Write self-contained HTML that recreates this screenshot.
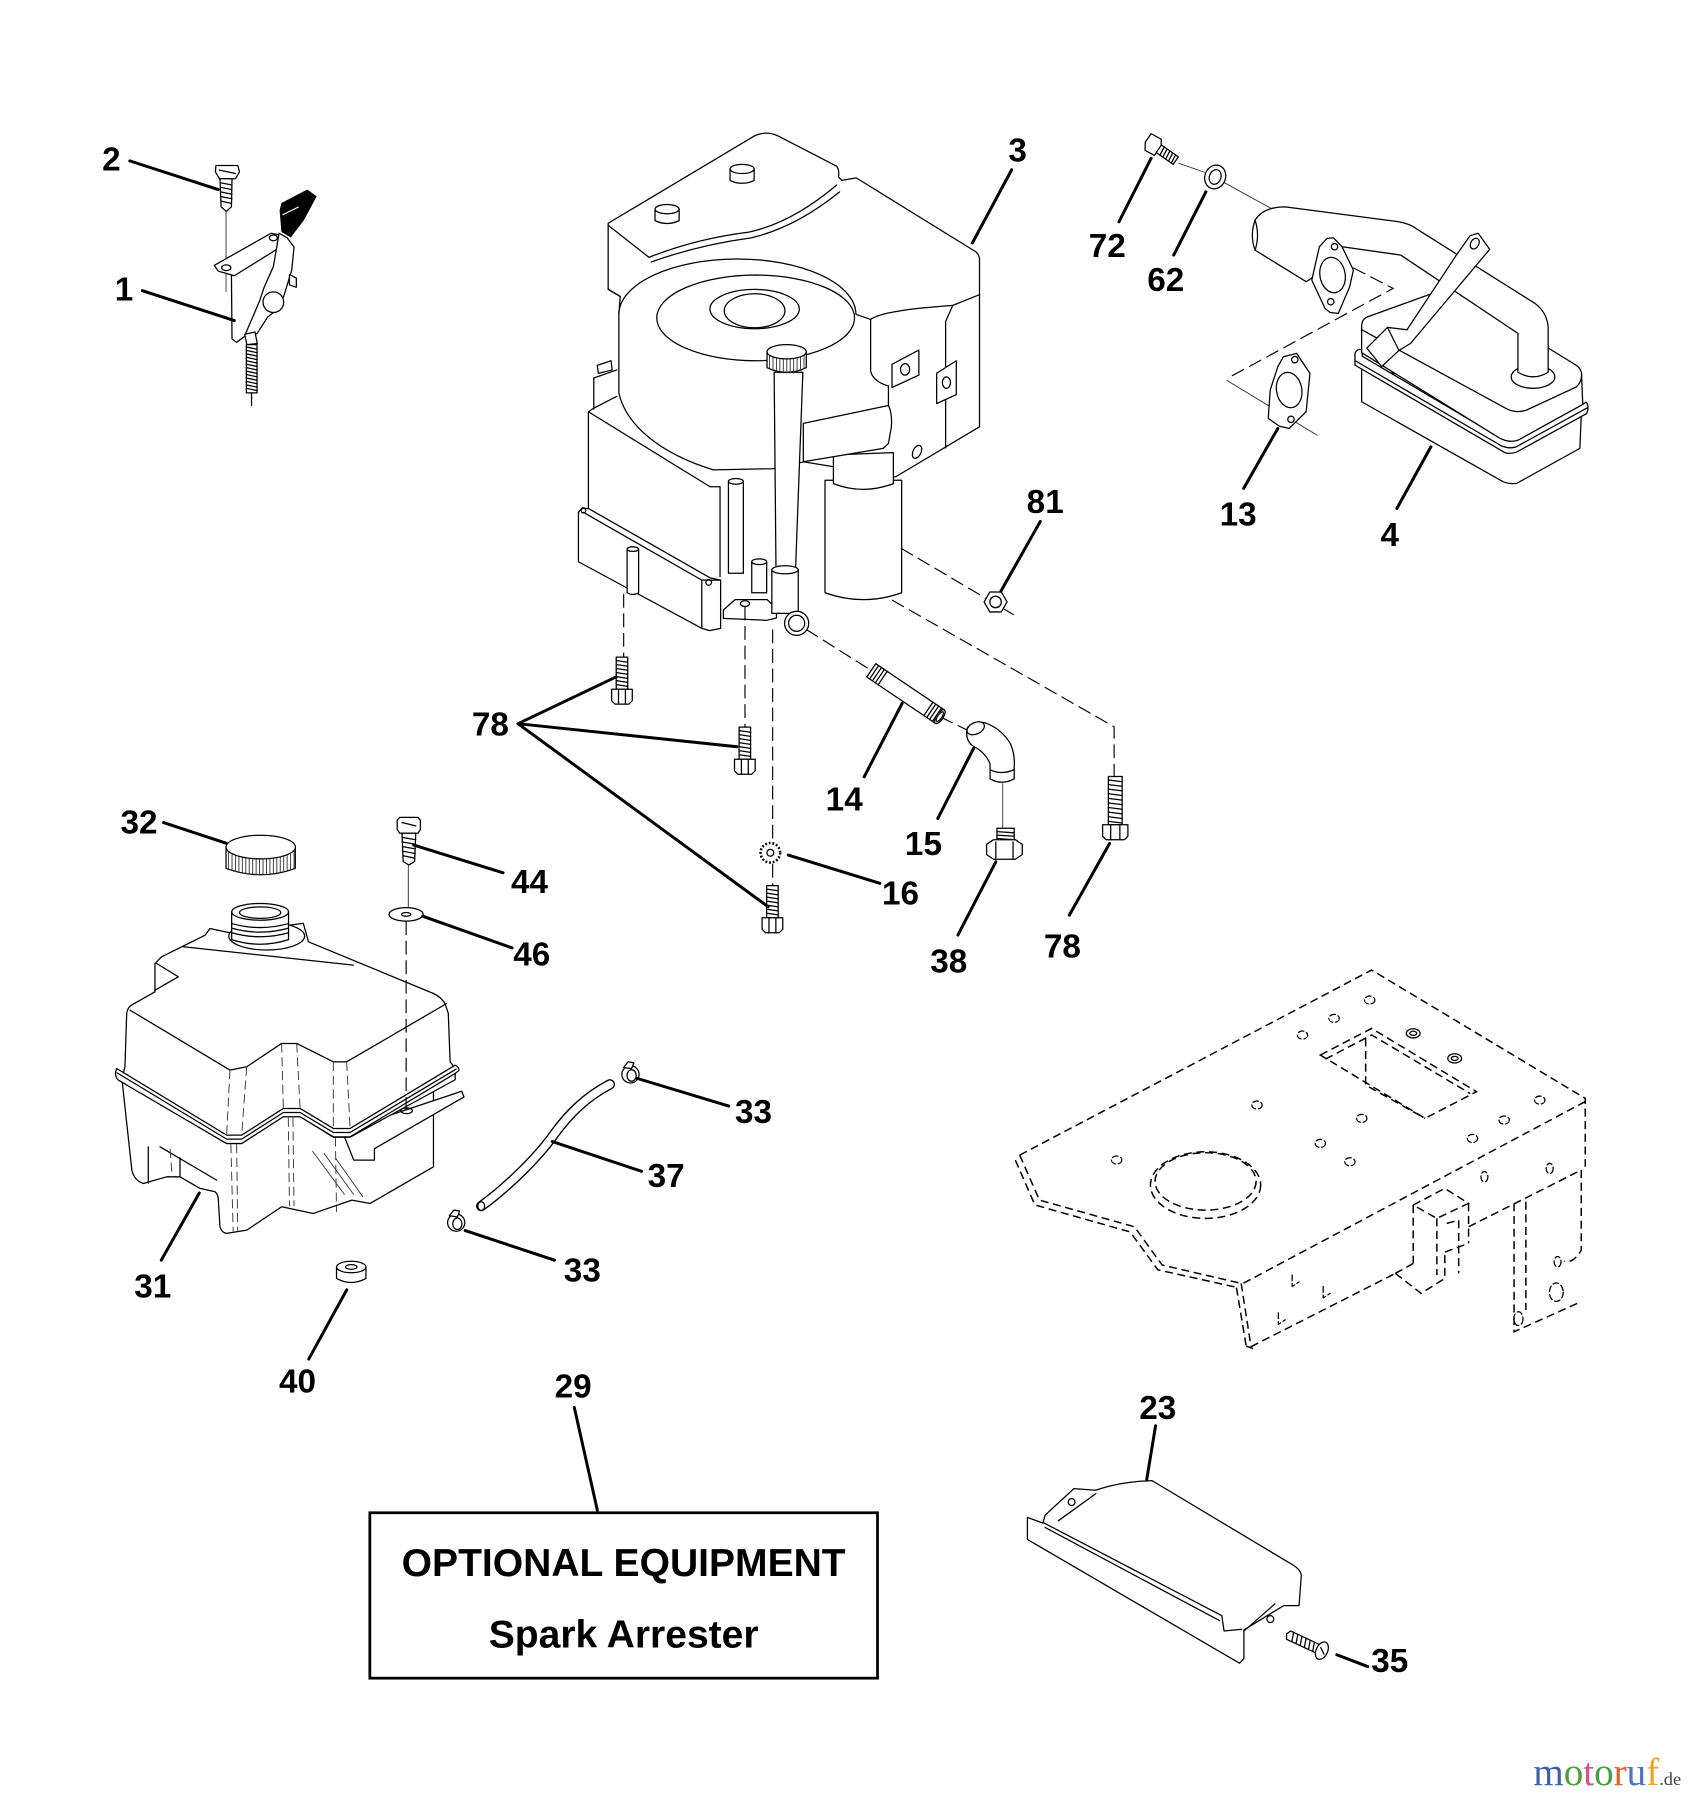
<!DOCTYPE html>
<html><head><meta charset="utf-8"><style>
html,body{margin:0;padding:0;background:#fff}
svg{display:block}
.t{font-family:"Liberation Sans",Arial,sans-serif;font-weight:bold;font-size:29px;text-anchor:middle;fill:#000}
.b{font-family:"Liberation Sans",Arial,sans-serif;font-weight:bold;font-size:34px;text-anchor:middle;fill:#000}
.l{stroke:#000;stroke-width:2.6;fill:none;stroke-linecap:round}
.s{stroke:#000;stroke-width:1.1;fill:none;stroke-linejoin:round;stroke-linecap:round}
.w{stroke:#000;stroke-width:1.1;fill:#fff;stroke-linejoin:round}
.k{stroke:#000;stroke-width:1.1;fill:#000}
.d{stroke:#000;stroke-width:1;fill:none;stroke-dasharray:12 5}
.f{stroke:#000;stroke-width:1.3;fill:none;stroke-dasharray:7 4}
.g{stroke:#333;stroke-width:0.8;fill:none}
</style></head><body>
<svg width="1693" height="1800" viewBox="0 0 1474 1567" xmlns="http://www.w3.org/2000/svg">
<rect width="1474" height="1567" fill="#fff"/>
<defs>
<g id="b78">
<path class="w" d="M-5,0 L5,0 L5,28 L-5,28 Z"/>
<path class="s" d="M-5,3 L5,4.5 M-5,6.5 L5,8 M-5,10 L5,11.5 M-5,13.5 L5,15 M-5,17 L5,18.5 M-5,20.5 L5,22 M-5,24 L5,25.5"/>
<path class="w" d="M-9,28 L9,28 L9,38 L6,41 L-6,41 L-9,38 Z"/>
<path class="s" d="M-3,28 L-3,41 M3,28 L3,41"/>
</g>
<g id="clamp">
<circle class="w" r="7.5"/>
<ellipse class="s" cx="1" cy="1" rx="4" ry="5"/>
<path class="w" d="M-6,-6 L-2,-11 L3,-10 L1,-5 Z"/>
</g>
</defs>

<!-- ========== THROTTLE CONTROL (1,2) ========== -->
<path class="w" d="M188,144 L207,144 L208.5,149.5 L205,155.5 L191,155.5 L187.5,149.5 Z"/>
<path class="s" d="M191,148 L205,151"/>
<path class="w" d="M191.5,155.5 L192.5,180 L197,184 L201.5,180 L202,155.5 Z"/>
<path class="s" d="M192,159 L202,161 M192,163 L202,165 M192,167 L202,169 M192,171 L202,173 M192.5,175 L201.5,177"/>
<path class="g" d="M196.8,184 L196.8,254"/>
<path class="w" d="M186.5,231 L236,203 L246,205 L249,212 L204,240 L190,236 Z"/>
<ellipse class="s" cx="197" cy="233" rx="4" ry="2.5"/>
<ellipse class="s" cx="238" cy="207" rx="3.5" ry="2.5"/>
<path class="s" d="M201.5,240 L202,295 L206,298 L214,292"/>
<path class="w" d="M243,203 L250,207 L256,215 L254,235 L247,258 L243,268 L233,276 L224,290 L216,296 L214,290 L220,276 L226,262 L230,250 L238,232 Z"/>
<circle class="w" cx="238" cy="263" r="9"/>
<path class="w" d="M252,239 L258,242 L258,250 L252,248 Z"/>
<path class="k" d="M245.5,177 L267.5,165.5 L275,171 L264,191.5 L253,206 L245.5,201.5 L244,183 Z"/>
<path d="M246,187 L260,180" stroke="#fff" stroke-width="1"/>
<path class="w" d="M213,291 L222,289 L224,299 L215,300 Z"/>
<path class="w" d="M214.5,300 L223.8,300 L223.8,342 L214.5,342 Z"/>
<path class="s" d="M214.5,302 L223.8,304 M214.5,305 L223.8,307 M214.5,308 L223.8,310 M214.5,311 L223.8,313 M214.5,314 L223.8,316 M214.5,317 L223.8,319 M214.5,320 L223.8,322 M214.5,323 L223.8,325 M214.5,326 L223.8,328 M214.5,329 L223.8,331 M214.5,332 L223.8,334 M214.5,335 L223.8,337 M214.5,338 L223.8,340"/>
<path class="s" d="M219,342 L219,353"/>

<!-- ========== ENGINE (3) ========== -->
<path class="w" d="M529.5,194.3 L657,118.2 Q667,113.5 677.2,118.2 L728.4,144.6 Q731,148 730,154 L733,157 L745.5,154.8 L849.7,219.2 Q853,222 852.8,227 L852.8,371.5 L779.7,415.1 L700,402 L673,408 L621,409 C575,395 545,370 538.8,342 L538.8,273.6 L540,258 L529.5,251.8 Z"/>
<path class="s" d="M529.5,196 L565,224 C590,214 620,206 652,202 C680,196 706,180 728.5,161"/>
<path class="s" d="M567,228 C595,218 624,211 654,207 C684,200 710,184 731,167"/>
<path class="s" d="M529.5,251.8 L540,258"/>
<g transform="translate(580.8,188)"><path class="w" d="M-10.5,-6 L-10.5,4 Q0,9 10.5,4 L10.5,-6 Z"/><ellipse class="w" cx="0" cy="-6" rx="10.5" ry="4"/></g>
<g transform="translate(646.1,153)"><path class="w" d="M-10.5,-6 L-10.5,4 Q0,9 10.5,4 L10.5,-6 Z"/><ellipse class="w" cx="0" cy="-6" rx="10.5" ry="4"/></g>
<path class="s" d="M758,278 C768,271 800,268 829.5,265.8 L852.8,256.5 M829.5,265.8 L823.3,279.8 L823.3,390"/>
<path class="w" d="M776.6,317.1 L800,304.7 L800,326.5 L776.6,337.3 Z"/><ellipse class="s" cx="788" cy="321.5" rx="4" ry="5"/>
<path class="w" d="M815.5,324.9 L832.6,314 L832.6,343.5 L815.5,351.3 Z"/><ellipse class="s" cx="824" cy="333" rx="3.5" ry="5"/>
<ellipse class="s" cx="798.4" cy="393.3" rx="3.5" ry="6" transform="rotate(25 798.4 393.3)"/>
<path class="s" d="M538.8,273.6 A103.2,48.2 0 0 1 745.2,273.6 Q752,276 758,278 L758,323 Q760,332 773.5,336 L773.5,386"/>
<ellipse class="s" cx="657.9" cy="276.7" rx="86.1" ry="37.3"/>
<ellipse class="s" cx="657" cy="269" rx="38.9" ry="17.1"/>
<ellipse class="s" cx="657" cy="270.5" rx="26.4" ry="14.8"/>
<!-- crankcase -->
<path class="s" d="M537,345 L516.6,355.5 L512.3,358.4 L512.3,444 M512.3,358.4 L618.2,423.7 L626.9,423.7 M626.9,423.7 L626.9,502"/>
<path class="w" d="M520,318 L532,314 L533,322 L521,325 Z"/>
<path class="s" d="M517,329 L517,356 M517,329 L537,322"/>
<path class="w" d="M503.6,446 L507,442 L513,443 L618.2,503 L627.4,505 L627.4,547 L618,549 L611,547 L503.6,489 Z"/>
<path class="s" d="M507.9,446 L611,505 L627.4,505 M611,505 L611,547"/>
<circle class="s" cx="508" cy="444.5" r="2"/><circle class="s" cx="617" cy="507" r="2.5"/>
<path class="w" d="M634.2,419 L634.2,499 L647.2,499 L647.2,419 Z"/><ellipse class="w" cx="640.7" cy="419" rx="6.5" ry="2.5"/>
<path class="w" d="M546,478 L546,516 Q551,519 556,516 L556,478 Z"/><ellipse class="w" cx="551" cy="478" rx="5" ry="2"/>
<path class="w" d="M654.5,489 L654.5,516 L667.5,516 L667.5,489 Z"/><ellipse class="w" cx="661" cy="489" rx="6.5" ry="2.5"/>
<path class="w" d="M629.8,531 L640,522 L668,522 L676,530 L676,538 L667.5,540 L629.8,538.3 Z"/><ellipse class="s" cx="648.6" cy="525.5" rx="4" ry="2.5"/>
<!-- filter -->
<path class="w" d="M718.3,418 L718.3,516 Q751.6,528 785,516 L785,418 Z"/>
<path class="w" d="M725.6,396 L725.6,421 Q751.6,431 777.8,421 L777.8,394 Z"/>
<!-- shroud piece -->
<path class="w" d="M699.4,368.5 L773.5,353 Q777,360 776,372 L773.5,386 L769,390.3 L699.4,401.9 Z"/>
<!-- dipstick -->
<path class="w" d="M674,324 L699,324 L692.7,494 L675.6,494 Z"/>
<path class="w" d="M667.8,306 L667.8,320 Q684.9,328 702,320 L702,306 Z"/>
<path class="g" d="M670,309 L670,321 M673,309 L673,323 M676,309 L676,324 M679,309 L679,325 M682,309 L682,325 M685,309 L685,325 M688,309 L688,325 M691,309 L691,325 M694,309 L694,324 M697,309 L697,323 M700,309 L700,321"/>
<ellipse class="w" cx="684.9" cy="306.2" rx="17.1" ry="6.2"/>
<path class="w" d="M672,496 L672,534 L695,534 L695,496 Z"/><ellipse class="w" cx="683.5" cy="496" rx="11.5" ry="3.5"/>
<circle class="w" cx="693.6" cy="542.6" r="10.5"/><circle class="s" cx="693.6" cy="542.6" r="7"/>

<!-- engine dashed lines -->
<path class="d" d="M784.4,477.2 L884,536"/>
<path class="d" d="M776.6,522.3 L970,632.7 L970,676"/>
<path class="d" d="M702,548 L758.2,583.4 M818.5,624 L845,637"/>
<path class="d" d="M543,517 L543,572"/>
<path class="d" d="M648.6,528 L648.6,633"/>
<path class="d" d="M672.7,548 L672.7,733 M672.7,752 L672.7,771"/>

<!-- nut 81 -->
<path class="w" d="M876.8,524 L871.8,532.7 L861.8,532.7 L856.8,524 L861.8,515.3 L871.8,515.3 Z"/><circle class="s" cx="866.8" cy="524" r="5"/>

<!-- bolts 78 -->
<use href="#b78" transform="translate(541.5,572)"/>
<use href="#b78" transform="translate(648.5,633)"/>
<use href="#b78" transform="translate(672.5,771)"/>
<g transform="translate(971,676)">
<path class="w" d="M-6,0 L6,0 L6,42 L-6,42 Z"/>
<path class="s" d="M-6,3 L6,4.5 M-6,7 L6,8.5 M-6,11 L6,12.5 M-6,15 L6,16.5 M-6,19 L6,20.5 M-6,23 L6,24.5 M-6,27 L6,28.5 M-6,31 L6,32.5 M-6,35 L6,36.5 M-6,39 L6,40.5"/>
<path class="w" d="M-11,42 L11,42 L11,52 L8,55 L-8,55 L-11,52 Z"/>
<path class="s" d="M-4,42 L-4,55 M4,42 L4,55"/>
</g>
<!-- washer 16 -->
<circle cx="670.7" cy="742.4" r="8.5" fill="#fff" stroke="#000" stroke-width="2.2" stroke-dasharray="1.6 1.6"/><circle class="s" cx="670.7" cy="742.4" r="3"/>
<!-- pipe 14 -->
<g transform="translate(788.4,603.7) rotate(34)">
<rect class="w" x="-36" y="-7" width="72" height="14"/>
<path class="s" d="M-33,-7 L-33,7 M-30,-7 L-30,7 M-27,-7 L-27,7 M-24,-7 L-24,7 M24,-7 L24,7 M27,-7 L27,7 M30,-7 L30,7 M33,-7 L33,7"/>
<ellipse class="w" cx="36" cy="0" rx="3" ry="7"/><ellipse class="s" cx="36" cy="0" rx="1.8" ry="5"/>
</g>
<!-- elbow 15 -->
<path class="w" d="M842,634 Q846,628 857,629 Q872,634 880,648 Q884,658 883,668 L883,678 Q872,684 862,678 L862,665 Q858,655 848,650 Q840,645 842,634 Z"/>
<ellipse class="w" cx="849.5" cy="634" rx="8" ry="5" transform="rotate(-25 849.5 634)"/>
<path class="s" d="M862,670 Q872,675 883,670"/>
<path class="g" d="M873,682 L873,722"/>
<!-- nut 38 -->
<path class="w" d="M868,721 L883,721 L883,733 L868,733 Z"/>
<path class="s" d="M868,724 L883,725 M868,727 L883,728 M868,730 L883,731"/>
<path class="w" d="M859,735 L865,731 L884,731 L890,735 L890,744 L884,748 L865,748 L859,744 Z"/>
<path class="s" d="M867,733 L867,748 M882,733 L882,748"/>

<!-- ========== MUFFLER (4,13,62,72) ========== -->
<g transform="translate(1004,126) rotate(35)">
<path class="w" d="M-7,-7 L3,-8 L7,-2 L6,7 L-3,8 L-7,2 Z"/>
<path class="w" d="M6,-4 L24,-4 L24,4 L6,4 Z"/>
<path class="s" d="M9,-4 L10,4 M12,-4 L13,4 M15,-4 L16,4 M18,-4 L19,4 M21,-4 L22,4"/>
</g>
<path class="g" d="M1026,142 L1049,150 M1066,159 L1155,208 M1127,209 L1150,215"/>
<ellipse class="w" cx="1058" cy="154" rx="9" ry="10.5" transform="rotate(20 1058 154)"/>
<ellipse class="s" cx="1058" cy="154" rx="5" ry="6.5" transform="rotate(20 1058 154)"/>
<!-- box lower -->
<path class="w" d="M1185.5,320 L1185.5,349.7 L1308.8,419.4 Q1314,421.5 1320.4,420.8 L1375.5,390.3 L1377,355 Z"/>
<path class="w" d="M1179.7,310 Q1179,305 1184,304 L1186,305 L1186,310 L1305.9,381 Q1313,385 1320.4,383 L1378,352 L1381,350 Q1384,354 1381.4,360 L1320.4,393.5 Q1313,396 1308.8,393.2 L1179.7,317.8 Z"/>
<path class="s" d="M1180,314 L1307,388 Q1314,391 1320,389 L1382,355"/>
<path class="w" d="M1185.5,283 Q1186,278 1190,276 L1262,250 L1369.7,316.3 Q1377,320 1377,326 L1378,352 L1322,383 Q1314,386 1305,381 L1185.5,307 Z"/>
<path class="s" d="M1185.5,287 L1312,356 Q1320,360 1329,357 L1372,337 Q1377,333 1377,326"/>
<ellipse class="w" cx="1334.7" cy="328" rx="19" ry="10"/>
<path class="w" d="M1092.7,191.5 Q1100,180 1119,180 L1217.8,193 Q1228,195 1232.7,198.8 L1336.4,264.1 Q1347,272 1347.9,285 L1347.9,324 Q1334.7,332 1321.6,324 L1321.6,290.2 L1219.5,222 L1168.5,214.7 L1145,240 L1137.2,245.2 L1092.7,217.7 Q1088,205 1092.7,191.5 Z"/>
<path class="s" d="M1092.7,191.5 Q1097,205 1092.7,217.7"/>
<path class="w" d="M1148.7,214.8 L1155.3,207.5 L1161,207 L1168.5,214.8 L1178.3,235.1 L1175.1,249.6 L1165.2,272.8 L1158,272 L1153.6,268.4 L1142.1,243.8 Z"/>
<ellipse class="s" cx="1160.2" cy="239.4" rx="11" ry="15.5" transform="rotate(-10 1160.2 239.4)"/>
<circle class="s" cx="1161.9" cy="214.7" r="2.8"/><circle class="s" cx="1158.6" cy="262.6" r="2.8"/>
<path class="w" d="M1280,205 L1287,203 L1297,217 L1228,299 L1218,305 L1203,319 L1190,303 L1208,285 L1225,287 L1268,222 Z"/>
<path class="s" d="M1208,285 L1218,305"/>
<ellipse class="s" cx="1284" cy="212" rx="3.5" ry="5" transform="rotate(30 1284 212)"/>
<path class="d" d="M1178,233 L1212.9,251 L1071,328"/>
<path class="g" d="M1068,331 L1147,379"/>
<path class="w" d="M1112.5,319.2 L1117.4,310.5 L1128.9,307.6 L1140.5,325 L1137.2,358.4 L1122.4,372.9 L1114,371 L1104.2,364.2 L1105.9,339.5 Z"/>
<ellipse class="s" cx="1122.4" cy="339.5" rx="11" ry="15.5" transform="rotate(-10 1122.4 339.5)"/>
<circle class="s" cx="1127.3" cy="313" r="2.8"/><circle class="s" cx="1124" cy="365" r="2.8"/>

<!-- ========== FUEL TANK (31,32,40,44,46) ========== -->
<path class="w" d="M106,938 L114.8,1018.7 Q117,1028 124.8,1030.3 L145.1,1024.5 L156.7,1024.5 L174.1,1034.6 L187.2,1037.5 Q190,1040 190.1,1044.8 L191.5,1068 Q193,1073 197.3,1073.8 L214.9,1070.9 L245.2,1050.6 L272.8,1056.4 L306.3,1044.8 L322.2,1047.7 L377.4,1015.8 L377.4,935 Z"/>
<path class="s" d="M129.1,998.4 L129.1,1030 M139.3,998.4 L188.6,1027.4 M156.7,1008 L156.7,1024.5"/>
<path class="g" stroke-dasharray="8 4" d="M201,996 L203,1072 M206,996 L207,1072 M251,973 L252,1050 M255,973 L256,1050 M292,990 L293,1055 M148,1000 L150,1025"/>
<path class="g" d="M272,1002 L300,1040 M282,1004 L308,1040 M292,1008 L316,1042"/>
<path class="w" d="M300,984 L402,950 L404,955 L326,1000 L326,1010 L308,1010 L300,990 Z"/>
<ellipse class="s" cx="354" cy="967" rx="5" ry="2.5"/>
<path class="w" d="M106,940 L108.8,928.7 L110.3,882.3 Q111,877 114.6,875 L134.9,863.4 L134.9,838.8 L140.7,833 L178.6,814.1 L182.8,808.3 L200,812 L264.1,803.9 L268.6,819.9 L377.4,864.9 Q384,868 387.4,873.6 L390.3,882.3 L391.9,924.4 L396.3,930 L396.3,940 L304.8,990 L290.2,990 L261.3,972 L246.7,972 L210.4,995.5 L197.3,995.5 L103,940 Z"/>
<path class="s" d="M113.2,879.4 L200.2,931.6 L214.8,928.7 L245.2,908.4 L258.3,908.4 L290.2,924.4 L301.8,924.4 L388.9,873.6"/>
<path class="g" stroke-dasharray="8 4" d="M200.2,931.6 L197.3,988 M214.8,928.7 L210.4,988 M245.2,908.4 L246.7,965 M258.3,908.4 L261.3,965 M290.2,924.4 L290.2,982 M301.8,924.4 L304.8,982"/>
<path class="s" d="M159.6,824.2 L307.6,840.2"/>
<path class="s" d="M136.4,838.8 L155.3,850.4 L134.9,862"/>
<path class="w" d="M101.6,930.2 L197.3,988.2 L210.4,988.2 L246.7,965 L261.3,965 L290.2,982.4 L304.8,982.4 L396.3,927.3 Q400,929 399.5,932 L396.3,934.5 L304.8,989.7 L290.2,989.7 L261.3,972.2 L246.7,972.2 L210.4,995.5 L197.3,995.5 L103,940.3 Q99,936 101.6,930.2 Z"/>
<path class="s" d="M102,934 L197.3,991.7 L210.4,991.7 L246.7,968.5 L261.3,968.5 L290.2,985.9 L304.8,985.9 L397,930.8"/>
<ellipse class="w" cx="232.2" cy="815" rx="33" ry="12"/>
<path class="w" d="M201.7,794 L201.7,818 Q226.5,826 251.2,818 L251.2,794 Z"/>
<path class="s" d="M201.7,804 Q226.5,811 251.2,804 M201.7,808 Q226.5,815 251.2,808 M201.7,812 Q226.5,819 251.2,812"/>
<ellipse class="w" cx="226.5" cy="793.8" rx="24.7" ry="7.3"/>
<ellipse class="s" cx="226.5" cy="794.5" rx="18" ry="5"/>
<!-- cap 32 -->
<path class="w" d="M196.8,737.4 L196.8,756 Q227,767 257.1,756 L257.1,737.4 Z"/>
<path class="g" d="M199,740 L199,756.8 M202,740 L202,757.7 M205,740 L205,758.6 M208,740 L208,759.3 M211,740 L211,759.9 M214,740 L214,760.5 M217,740 L217,760.9 M220,740 L220,761.2 M223,740 L223,761.4 M226,740 L226,761.5 M229,740 L229,761.5 M232,740 L232,761.3 M235,740 L235,761.1 M238,740 L238,760.8 M241,740 L241,760.3 M244,740 L244,759.8 M247,740 L247,759.1 M250,740 L250,758.3 M253,740 L253,757.4 M256,740 L256,756.4"/>
<ellipse class="w" cx="227" cy="737.4" rx="30.2" ry="10.3"/>
<!-- screw 44 / washer 46 -->
<path class="w" d="M345.8,714 L348,711.6 L364,711.6 L366,714 L366,722 L364,725.4 L348,725.4 L345.8,722 Z"/>
<path class="s" d="M350,716 L362,719"/>
<path class="w" d="M350,725.4 L351,750 L356,753 L361,750 L362,725.4 Z"/>
<path class="s" d="M350,729 L362,731 M350,733 L362,735 M350.5,737 L361.5,739 M350.5,741 L361.5,743 M351,745 L361,747"/>
<path class="g" d="M355.5,753 L355.5,790"/>
<ellipse class="w" cx="353.6" cy="796" rx="14.8" ry="5.9"/>
<ellipse class="s" cx="353.6" cy="796" rx="4" ry="1.6"/>
<path class="d" d="M353.6,802 L353.6,966"/>
<!-- grommet 40 -->
<path class="w" d="M293,1103 L293,1113 Q305.8,1120 318.6,1113 L318.6,1103 Z"/>
<ellipse class="w" cx="305.8" cy="1103" rx="12.8" ry="5"/>
<ellipse class="s" cx="305.8" cy="1103" rx="5" ry="2"/>
<!-- hose 37 and clamps 33 -->
<path d="M531,944 C510,955 495,970 482,988 C468,1008 440,1035 419,1050" stroke="#000" stroke-width="9" fill="none" stroke-linecap="round"/>
<path d="M531,944 C510,955 495,970 482,988 C468,1008 440,1035 419,1050" stroke="#fff" stroke-width="6.6" fill="none" stroke-linecap="round"/>
<ellipse class="s" cx="419" cy="1050" rx="3" ry="3.8"/>
<use href="#clamp" transform="translate(548.9,935.3)"/>
<use href="#clamp" transform="translate(397.2,1064.4)"/>

<!-- ========== FRAME (dashed) ========== -->
<path class="f" d="M887.8,1005.6 L1194.2,844.5 L1380.2,956.2 L1380.2,1015.7"/>
<path class="f" d="M1380.2,959 L1082.3,1117.3"/>
<path class="f" d="M887.8,1005.6 L905,1044.8 L987.7,1068 L1011.8,1101.3 L1080.6,1117.3"/>
<path class="f" d="M884,1010 L901,1049 L984,1072.5 L1008,1105.5 L1078,1121"/>
<path class="f" d="M1080.6,1117.3 L1089.2,1172.4 M1076.5,1121 L1085,1172 M1085,1172 L1091,1174"/>
<path class="f" d="M1089.2,1172.4 L1214.9,1108.6"/>
<path class="f" d="M1230.4,1049.1 L1257.9,1034.6 L1278.6,1047.6 L1251,1060.7 Z M1230.4,1049.1 L1230.4,1099.9 M1251,1060.7 L1251,1110.1 M1278.6,1047.6 L1278.6,1082.5 M1214.9,1108.6 L1237.3,1126 L1257.9,1113 L1257.9,1090 M1214.9,1108.6 L1230.4,1099.9 M1259.5,1065.1 L1270,1062.2 L1270,1108.6 M1258,1090 L1278.6,1082.5"/>
<path class="f" d="M1278.6,1068 L1376.7,1018.6 M1318.2,1047.6 L1318.2,1159.4 L1373.3,1134.7 M1328.5,1046.2 L1328.5,1140.5 M1376.7,1018.6 L1376.7,1088.3 Q1370,1100 1362,1098"/>
<path class="f" d="M1149.5,918.5 L1194.2,895.3 L1285.5,950.4 L1240.7,973.6 Z M1154,922 L1194.2,901 L1280,952 M1189,904 L1189,944.6 L1240.7,973.6"/>
<ellipse class="f" cx="1049.6" cy="1031.7" rx="48" ry="29"/>
<ellipse class="f" cx="1049.6" cy="1028.5" rx="44" ry="25"/>
<g class="s" stroke-dasharray="5 2.5">
<ellipse cx="1192.5" cy="870.6" rx="4.5" ry="3.5"/><ellipse cx="1161.5" cy="886.6" rx="4.5" ry="3.5"/>
<ellipse cx="1134" cy="901.1" rx="4.5" ry="3.5"/><ellipse cx="1094.4" cy="962" rx="4.5" ry="3.5"/>
<ellipse cx="1185.6" cy="973.6" rx="4.5" ry="3.5"/><ellipse cx="1149.5" cy="995.4" rx="4.5" ry="3.5"/>
<ellipse cx="1175.3" cy="1011.4" rx="4.5" ry="3.5"/><ellipse cx="972.2" cy="1009.9" rx="4.5" ry="3.5"/>
<ellipse cx="1340.6" cy="957.7" rx="4.5" ry="3.5"/><ellipse cx="1309.6" cy="975.1" rx="4.5" ry="3.5"/>
<ellipse cx="1282" cy="991.1" rx="4.5" ry="3.5"/><ellipse cx="1292.4" cy="1024.4" rx="3" ry="4.5"/>
<ellipse cx="1349.2" cy="1017.2" rx="3" ry="4.5"/><ellipse cx="1356.1" cy="1098.4" rx="3" ry="4.5"/>
<ellipse cx="1355" cy="1125" rx="6" ry="8"/><ellipse cx="1322" cy="1148" rx="4" ry="6"/>
<path d="M1125,1110 L1125,1120 L1131,1116 M1152,1120 L1152,1130 L1158,1126 M1113,1143 L1113,1153 L1119,1149"/>
</g>
<ellipse cx="1230.4" cy="899.6" rx="6" ry="4" class="w" stroke-width="1.6"/><ellipse cx="1230.4" cy="899.6" rx="3" ry="1.8" class="s"/>
<ellipse cx="1266.5" cy="921.4" rx="6" ry="4" class="w" stroke-width="1.6"/><ellipse cx="1266.5" cy="921.4" rx="3" ry="1.8" class="s"/>

<!-- ========== COVER 23 / SCREW 35 ========== -->
<path class="w" d="M894.5,1321 L908,1326 L910,1319 L935,1296 L954,1297.4 Q975,1290 1003,1289 L1125.4,1362.3 Q1132,1366 1133,1371.2 L1131,1397.8 L1117.7,1397.8 L1083,1419 L1083,1444 L1079.2,1448 L894.5,1340.2 Z"/>
<path class="s" d="M908,1325.4 L1063.8,1406.6 L1065.7,1419.9 L1081.1,1418.4 M909.9,1329.8 L1061.9,1411 M921.4,1324 L954.1,1300.3 M1083,1420 L1110,1396.3"/>
<circle class="s" cx="933" cy="1307.7" r="3"/><circle class="s" cx="1106" cy="1409.6" r="3"/>
<g transform="translate(1140,1432) rotate(25)">
<path class="w" d="M-20,-4 L10,-4 L10,4 L-20,4 L-22,0 Z"/>
<path class="s" d="M-17,-4 L-15,4 M-13,-4 L-11,4 M-9,-4 L-7,4 M-5,-4 L-3,4 M-1,-4 L1,4 M3,-4 L5,4"/>
<ellipse class="w" cx="12" cy="0" rx="5" ry="8"/>
<path class="s" d="M10,-2 L15,2"/>
</g>

<!-- ========== LEADER LINES ========== -->
<g class="l">
<path d="M113,140 L190,165"/>
<path d="M124,253 L204,279"/>
<path d="M880.8,147.7 L846.6,211.4"/>
<path d="M1002.2,137.8 L974.2,193"/>
<path d="M1049.9,166.9 L1021.9,222"/>
<path d="M1112.5,372.9 L1082.8,425.1"/>
<path d="M1245.8,388.9 L1216.2,442.6"/>
<path d="M905.7,453.9 L871.5,514.5"/>
<path d="M451,630 L536.6,589.2 M451,630 L641.6,650.1 M451,630 L668.8,789.4"/>
<path d="M785.4,612.4 L752.4,676.2"/>
<path d="M847.6,651.5 L816.5,712.5"/>
<path d="M686.3,744.4 L766,769"/>
<path d="M867,750.2 L834,814"/>
<path d="M966,734.3 L931,796.7"/>
<path d="M142.4,716.1 L196.8,734"/>
<path d="M360.2,735.7 L438,759.8"/>
<path d="M368,797.6 L445.8,825.2"/>
<path d="M554.7,938.8 L634.5,962.9"/>
<path d="M480.8,993.8 L558.6,1019.7"/>
<path d="M405,1071.3 L482.8,1097.1"/>
<path d="M173.5,1038.6 L140.4,1097.1"/>
<path d="M301.9,1122.9 L268.8,1183.2"/>
<path d="M500,1225.3 L520.1,1314.9"/>
<path d="M1006.1,1241.2 L998.4,1287.9"/>
<path d="M1163.9,1440.6 L1190.8,1450.9"/>
</g>

<!-- ========== LABELS ========== -->
<text class="t" x="97" y="148.5">2</text>
<text class="t" x="108" y="261.5">1</text>
<text class="t" x="886" y="140.5">3</text>
<text class="t" x="964" y="223.5">72</text>
<text class="t" x="1015" y="253.5">62</text>
<text class="t" x="1078" y="457.5">13</text>
<text class="t" x="1210" y="475.5">4</text>
<text class="t" x="910" y="446.5">81</text>
<text class="t" x="427" y="640.5">78</text>
<text class="t" x="735" y="705.5">14</text>
<text class="t" x="804" y="744.5">15</text>
<text class="t" x="784" y="787.5">16</text>
<text class="t" x="826" y="846.5">38</text>
<text class="t" x="925" y="833.5">78</text>
<text class="t" x="121" y="725.5">32</text>
<text class="t" x="461" y="777.5">44</text>
<text class="t" x="463" y="840.5">46</text>
<text class="t" x="656" y="977.5">33</text>
<text class="t" x="580" y="1033.5">37</text>
<text class="t" x="507" y="1115.5">33</text>
<text class="t" x="133" y="1129.5">31</text>
<text class="t" x="259" y="1212.5">40</text>
<text class="t" x="499" y="1216.5">29</text>
<text class="t" x="1008" y="1235.5">23</text>
<text class="t" x="1210" y="1455.5">35</text>

<!-- ========== OPTIONAL EQUIPMENT BOX ========== -->
<rect x="322" y="1317" width="442" height="144" fill="#fff" stroke="#000" stroke-width="2.4"/>
<text class="b" x="543" y="1372">OPTIONAL EQUIPMENT</text>
<text class="b" x="543" y="1434.5">Spark Arrester</text>

<!-- ========== WATERMARK ========== -->
<text x="1335" y="1554" font-family="Liberation Serif, serif" font-size="34"><tspan fill="#3f5fa9">m</tspan><tspan fill="#4e9f3b">o</tspan><tspan fill="#d9508e">t</tspan><tspan fill="#44a045">o</tspan><tspan fill="#e0602c">r</tspan><tspan fill="#4a74bf">u</tspan><tspan fill="#efa41f">f</tspan><tspan fill="#444" font-size="16">.de</tspan></text>
</svg>
</body></html>
